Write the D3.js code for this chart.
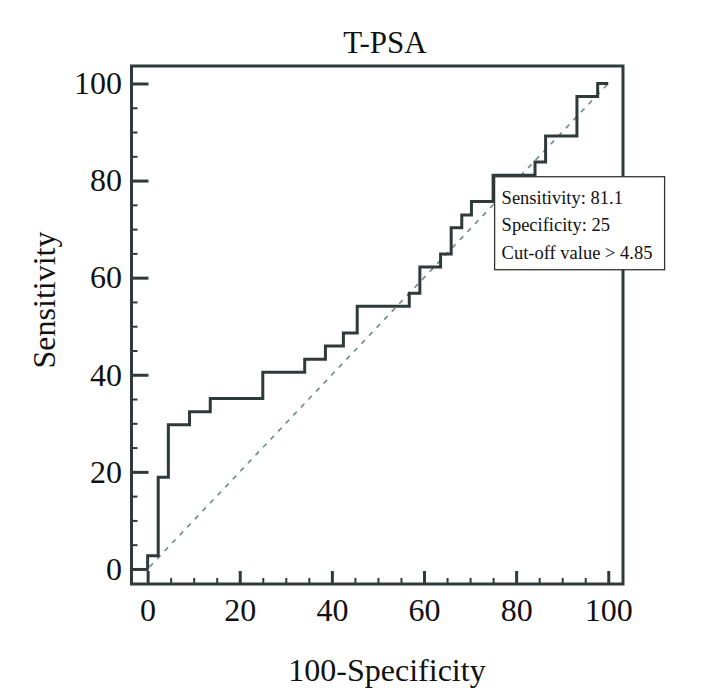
<!DOCTYPE html>
<html>
<head>
<meta charset="utf-8">
<script src="https://cdn.jsdelivr.net/npm/d3@7"></script>
<style>
  body { margin: 0; background: #fff; }
  svg { display: block; }
</style>
</head>
<body>
<div id="chart"></div>
<script>
// ROC curve corners (100-Specificity, Sensitivity), drawn as steps (vertical first)
const fpr = [0, 2.3, 4.5, 9.1, 13.6, 25.0, 34.1, 38.6, 42.5, 45.5, 56.8, 59.1, 63.6, 65.9, 68.2, 70.3, 75.0, 84.1, 86.4, 93.2, 97.7, 100];
const sens = [0, 2.7, 18.9, 29.7, 32.4, 35.1, 40.5, 43.2, 45.9, 48.6, 54.1, 56.8, 62.2, 64.9, 70.3, 72.9, 75.7, 81.1, 83.8, 89.2, 97.3, 100];
const majorTicks = [0, 20, 40, 60, 80, 100];
const minorTicks = [5, 10, 15, 25, 30, 35, 45, 50, 55, 65, 70, 75, 85, 90, 95];
const infoLines = ["Sensitivity: 81.1", "Specificity: 25", "Cut-off value > 4.85"];

const width = 713, height = 700;
const ink = "#2f3a3a";
const font = "'Liberation Serif', 'Times New Roman', serif";

const svg = d3.select("#chart").append("svg")
    .attr("width", width)
    .attr("height", height);

// scales: the frame sits a little outside 0..100
const x = d3.scaleLinear().domain([-3.5, 103.2]).range([131.5, 623]);
const y = d3.scaleLinear().domain([-3.1, 103.6]).range([584, 66]);

const [x0, x1] = x.range();
const [y0, y1] = y.range();

// title
svg.append("text")
    .attr("x", 385)
    .attr("y", 53)
    .attr("text-anchor", "middle")
    .style("font-family", font)
    .style("font-size", "31px")
    .attr("fill", "#111")
    .text("T-PSA");

// diagonal reference line
svg.append("line")
    .attr("x1", x(0.4)).attr("y1", y(0.4))
    .attr("x2", x(100)).attr("y2", y(100))
    .attr("stroke", "#6f8888")
    .attr("stroke-width", 1.6)
    .attr("stroke-dasharray", "5,6");

// x axis major + minor (ticks pointing inward)
const xMajor = svg.append("g")
    .attr("transform", `translate(0,${y0})`)
    .call(d3.axisBottom(x).tickValues(majorTicks).tickSizeInner(-13).tickSizeOuter(0).tickPadding(14));
const xMinor = svg.append("g")
    .attr("transform", `translate(0,${y0})`)
    .call(d3.axisBottom(x).tickValues(minorTicks).tickSizeInner(-6).tickSizeOuter(0).tickFormat(""));

// y axis
const yMajor = svg.append("g")
    .attr("transform", `translate(${x0},0)`)
    .call(d3.axisLeft(y).tickValues(majorTicks).tickSizeInner(-17).tickSizeOuter(0).tickPadding(9.5));
const yMinor = svg.append("g")
    .attr("transform", `translate(${x0},0)`)
    .call(d3.axisLeft(y).tickValues(minorTicks).tickSizeInner(-6).tickSizeOuter(0).tickFormat(""));

[xMajor, xMinor, yMajor, yMinor].forEach(g => {
    g.select(".domain").remove();
    g.selectAll("line").attr("stroke", ink);
    g.selectAll("text")
        .style("font-family", font)
        .style("font-size", "32px")
        .attr("fill", "#111");
});
[xMajor, yMajor].forEach(g => g.selectAll("line").attr("stroke-width", 3));
[xMinor, yMinor].forEach(g => g.selectAll("line").attr("stroke-width", 2));

// the ROC step curve
const pts = fpr.map((d, i) => [d, sens[i]]);
const line = d3.line()
    .x(d => x(d[0]))
    .y(d => y(d[1]))
    .curve(d3.curveStepBefore);

svg.append("path")
    .datum(pts)
    .attr("d", line)
    .attr("fill", "none")
    .attr("stroke", ink)
    .attr("stroke-width", 3)
    .attr("stroke-linejoin", "miter");

// frame
svg.append("rect")
    .attr("x", x0)
    .attr("y", y1)
    .attr("width", x1 - x0)
    .attr("height", y0 - y1)
    .attr("fill", "none")
    .attr("stroke", ink)
    .attr("stroke-width", 3);

// info box at the cut-off point
const box = svg.append("g").attr("transform", `translate(${x(75) + 1.5},${y(81.1) + 1.5})`);
box.append("rect")
    .attr("width", 170)
    .attr("height", 93)
    .attr("fill", "#fff")
    .attr("stroke", "#333")
    .attr("stroke-width", 1.3);
box.selectAll("text")
    .data(infoLines)
    .join("text")
    .attr("x", 7)
    .attr("y", (d, i) => 27 + i * 27.5)
    .style("font-family", font)
    .style("font-size", "18.5px")
    .attr("fill", "#111")
    .text(d => d);

// axis titles
svg.append("text")
    .attr("x", 387)
    .attr("y", 681)
    .attr("text-anchor", "middle")
    .style("font-family", font)
    .style("font-size", "32px")
    .attr("fill", "#111")
    .text("100-Specificity");

svg.append("text")
    .attr("transform", "translate(55,300) rotate(-90)")
    .attr("text-anchor", "middle")
    .style("font-family", font)
    .style("font-size", "32px")
    .attr("fill", "#111")
    .text("Sensitivity");
</script>
</body>
</html>
